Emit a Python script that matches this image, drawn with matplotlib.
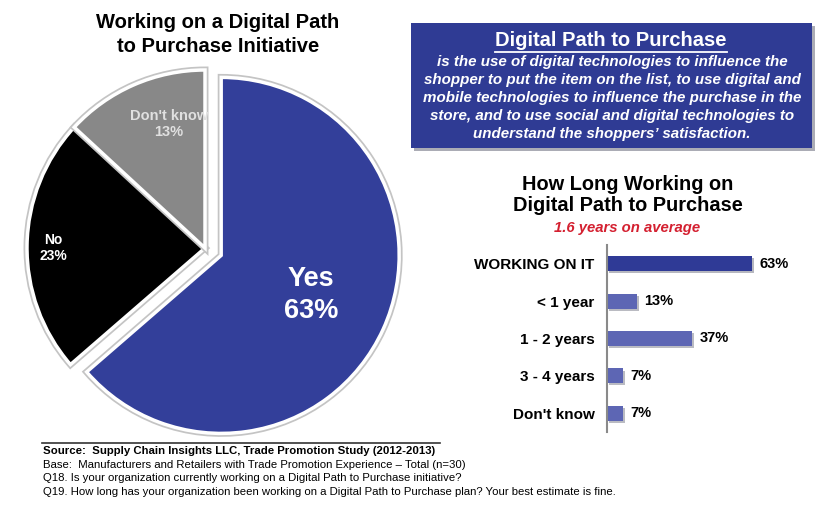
import matplotlib.pyplot as plt
import matplotlib.patheffects as pe
from matplotlib.patches import Rectangle

plt.rcParams['font.family'] = ['Liberation Sans', 'DejaVu Sans']

# pie: working on a digital path to purchase initiative
pie_labels = ['Yes', 'No', "Don't know"]
pie_values = [63, 23, 13]
pie_colors = ['#333f9a', '#000000', '#888888']

# bars: how long working on it
bar_labels = ['WORKING ON IT', '< 1 year', '1 - 2 years', '3 - 4 years', "Don't know"]
bar_values = [63, 13, 37, 7, 7]
bar_colors = ['#2f3a96', '#5d66b4', '#5d66b4', '#5d66b4', '#5d66b4']

W, H = 840, 505
fig = plt.figure(figsize=(8.4, 5.05), dpi=100)
fig.patch.set_facecolor('white')
ax = fig.add_axes([0, 0, 1, 1])


def py(y):  # pixel row (from top) -> data y
    return H - y


r = 178
# explode is in data units when radius != 1, so scale it by r
wedges, _ = ax.pie(pie_values, colors=pie_colors, startangle=90, counterclock=False,
                   explode=[0.1 * r, 0, 0], center=(205, py(248)), radius=r,
                   wedgeprops=dict(edgecolor='white', linewidth=2.5))
for w in wedges:
    w.set_path_effects([pe.Stroke(linewidth=5, foreground='#c4c4c4'), pe.Normal()])
wedges[0].set_zorder(3)
ax.set_xlim(0, W)
ax.set_ylim(0, H)
ax.set_aspect('equal')
ax.axis('off')

ax.text(311, py(295), f'{pie_labels[0]}\n{pie_values[0]}%', color='white', fontsize=19.5,
        fontweight='bold', ha='center', va='center', linespacing=1.3, zorder=4)
ax.text(53, py(248), f'{pie_labels[1]}\n{pie_values[1]}%', color='white', fontsize=10,
        fontweight='bold', ha='center', va='center', linespacing=1.25, zorder=4)
ax.text(169, py(124), f'{pie_labels[2]}\n{pie_values[2]}%', color='#e0e0e0', fontsize=10.5,
        fontweight='bold', ha='center', va='center', linespacing=1.25, zorder=2)

ax.text(218, py(34.5), 'Working on a Digital Path\nto Purchase Initiative', fontsize=14.5,
        fontweight='bold', ha='center', va='center', linespacing=1.3)

# definition box
box = Rectangle((411, py(148)), 401, 125, facecolor='#2f3b94', edgecolor='none', zorder=2)
box.set_path_effects([pe.SimplePatchShadow(offset=(2, -2), alpha=0.35), pe.Normal()])
ax.add_patch(box)
t = ax.text(611, py(41), 'Digital Path to Purchase', color='white', fontsize=14.5,
            fontweight='bold', ha='center', va='center', zorder=3)
fig.canvas.draw()
bb = t.get_window_extent().transformed(ax.transData.inverted())
ax.plot([bb.x0, bb.x1], [py(52), py(52)], color='white', lw=1.3, zorder=3)
ax.text(612, py(98), 'is the use of digital technologies to influence the\n'
        'shopper to put the item on the list, to use digital and\n'
        'mobile technologies to influence the purchase in the\n'
        'store, and to use social and digital technologies to\n'
        'understand the shoppers\u2019 satisfaction.',
        color='white', fontsize=10.9, fontweight='bold', style='italic',
        ha='center', va='center', linespacing=1.38, zorder=3)

# bar chart titles
ax.text(628, py(195), 'How Long Working on\nDigital Path to Purchase', fontsize=14.4,
        fontweight='bold', ha='center', va='center', linespacing=1.15)
ax.text(627, py(228), '1.6 years on average', fontsize=10.7, color='#d42030',
        fontweight='bold', style='italic', ha='center', va='center')

bax = fig.add_axes([607 / W, (H - 432) / H, 193 / W, 187 / H])
bax.patch.set_alpha(0)
ypos = list(range(len(bar_values)))
bars = bax.barh(ypos, bar_values, height=0.4, color=bar_colors)
for b in bars:
    b.set_path_effects([pe.SimplePatchShadow(offset=(1.5, -1.5), alpha=0.3), pe.Normal()])
for y, v in zip(ypos, bar_values):
    bax.text(v + 3.3, y, f'{v}%', fontsize=10.5, fontweight='bold', va='center', ha='left')
bax.set_xlim(0, 84)
bax.set_ylim(len(bar_values) - 0.5, -0.5)
bax.set_yticks(ypos)
bax.set_yticklabels(bar_labels, fontsize=11, fontweight='bold')
bax.tick_params(axis='y', length=0, pad=9)
bax.set_xticks([])
for s in ['top', 'right', 'bottom']:
    bax.spines[s].set_visible(False)
bax.spines['left'].set_color('#8a8a8a')
bax.spines['left'].set_linewidth(1.5)

# footer
ax.plot([42, 440], [py(443), py(443)], color='#333333', lw=1.2)
ax.text(43, py(451), 'Source:  Supply Chain Insights LLC, Trade Promotion Study (2012-2013)',
        fontsize=8.2, fontweight='bold', va='center')
notes = ['Base:  Manufacturers and Retailers with Trade Promotion Experience \u2013 Total (n=30)',
         'Q18. Is your organization currently working on a Digital Path to Purchase initiative?',
         'Q19. How long has your organization been working on a Digital Path to Purchase plan? '
         'Your best estimate is fine.']
for i, line in enumerate(notes):
    ax.text(43, py(464.5 + 13.7 * i), line, fontsize=8.2, va='center')

fig.savefig('out.png', dpi=100)
